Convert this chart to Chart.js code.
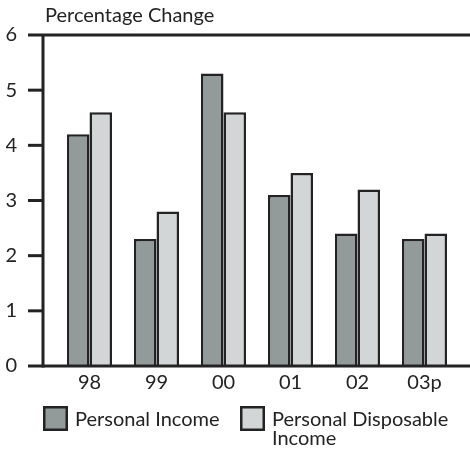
<!DOCTYPE html>
<html>
<head>
<meta charset="utf-8">
<script src="https://cdn.jsdelivr.net/npm/chart.js@4/dist/chart.umd.min.js"></script>
<style>
  html, body { margin: 0; padding: 0; background: #fff; }
  #wrap { width: 470px; height: 452px; }
</style>
</head>
<body>
<div id="wrap"><canvas id="chart" width="470" height="452"></canvas></div>
<script>
/* ── Data ───────────────────────────────────────────────────── */
const years            = ["98", "99", "00", "01", "02", "03p"];
const personalIncome   = [4.2, 2.3, 5.3, 3.1, 2.4, 2.3];
const disposableIncome = [4.6, 2.8, 4.6, 3.5, 3.2, 2.4];
const yTicks           = [0, 1, 2, 3, 4, 5, 6];
const titleText        = "Percentage Change";
const legendLines      = [["Personal Income"], ["Personal Disposable", "Income"]];

/* ── Look ───────────────────────────────────────────────────── */
const INK   = "#222322";
const FONT  = "Lato";
const DARK  = "#939a9a";
const LIGHT = "#d3d6d6";

/* Axis frame, title and legend drawn by hand (the axis sits left of the bars) */
const framePlugin = {
  id: "frame",
  afterDatasetsDraw(chart) {
    const { ctx, chartArea: a, scales: { y } } = chart;
    const axisX = a.left - 13;
    const tickL = a.left - 28;
    const top = yTicks[yTicks.length - 1];
    ctx.save();
    ctx.strokeStyle = INK;
    ctx.lineWidth = 3;
    /* vertical axis */
    ctx.beginPath();
    ctx.moveTo(axisX, y.getPixelForValue(top));
    ctx.lineTo(axisX, y.getPixelForValue(yTicks[0]) + 1.5);
    ctx.stroke();
    /* tick marks, first and last run across the whole chart */
    yTicks.forEach((t) => {
      const py = y.getPixelForValue(t);
      ctx.beginPath();
      ctx.moveTo(tickL, py);
      ctx.lineTo(t === 0 || t === top ? chart.width : axisX, py);
      ctx.stroke();
    });
    ctx.restore();
  },
  afterDraw(chart) {
    const { ctx, chartArea: a } = chart;
    ctx.save();
    ctx.fillStyle = INK;
    ctx.textBaseline = "alphabetic";
    ctx.font = "20px " + FONT;
    ctx.fillText(titleText, a.left - 11, 22);

    /* legend */
    const boxes = [43, 240];
    chart.data.datasets.forEach((ds, i) => {
      const bx = boxes[i];
      ctx.fillStyle = ds.backgroundColor;
      ctx.fillRect(bx, 406, 25, 25);
      ctx.strokeStyle = INK;
      ctx.lineWidth = 2.5;
      ctx.strokeRect(bx + 1.25, 407.25, 22.5, 22.5);
      ctx.fillStyle = INK;
      ctx.font = "20px " + FONT;
      legendLines[i].forEach((line, k) => {
        ctx.fillText(line, bx + 32, 426 + k * 19);
      });
    });
    ctx.restore();
  },
};

new Chart(document.getElementById("chart"), {
  type: "bar",
  data: {
    labels: years,
    datasets: [
      {
        label: legendLines[0].join(" "),
        data: personalIncome,
        backgroundColor: DARK,
        borderColor: INK,
        borderWidth: 2.5,
      },
      {
        label: legendLines[1].join(" "),
        data: disposableIncome,
        backgroundColor: LIGHT,
        borderColor: INK,
        borderWidth: 2.5,
      },
    ],
  },
  options: {
    responsive: false,
    animation: false,
    layout: { padding: { top: 35, left: 6, right: 12, bottom: 52 } },
    categoryPercentage: 0.672,
    barPercentage: 1.0,
    plugins: {
      legend: { display: false },
      title: { display: false },
      tooltip: { enabled: false },
    },
    scales: {
      x: {
        grid: { display: false, drawTicks: false },
        border: { display: false },
        ticks: { color: INK, font: { family: FONT, size: 20 }, padding: 5 },
        afterFit: (s) => { s.height = 34; s.paddingLeft = 0; s.paddingRight = 0; },
      },
      y: {
        min: 0,
        max: 6,
        grid: { display: false, drawTicks: false },
        border: { display: false },
        afterBuildTicks: (s) => { s.ticks = yTicks.map((v) => ({ value: v })); },
        ticks: { color: INK, font: { family: FONT, size: 20 }, padding: 39 },
        afterFit: (s) => { s.width = 50; s.paddingTop = 0; s.paddingBottom = 0; },
      },
    },
  },
  plugins: [framePlugin],
});
</script>
</body>
</html>
